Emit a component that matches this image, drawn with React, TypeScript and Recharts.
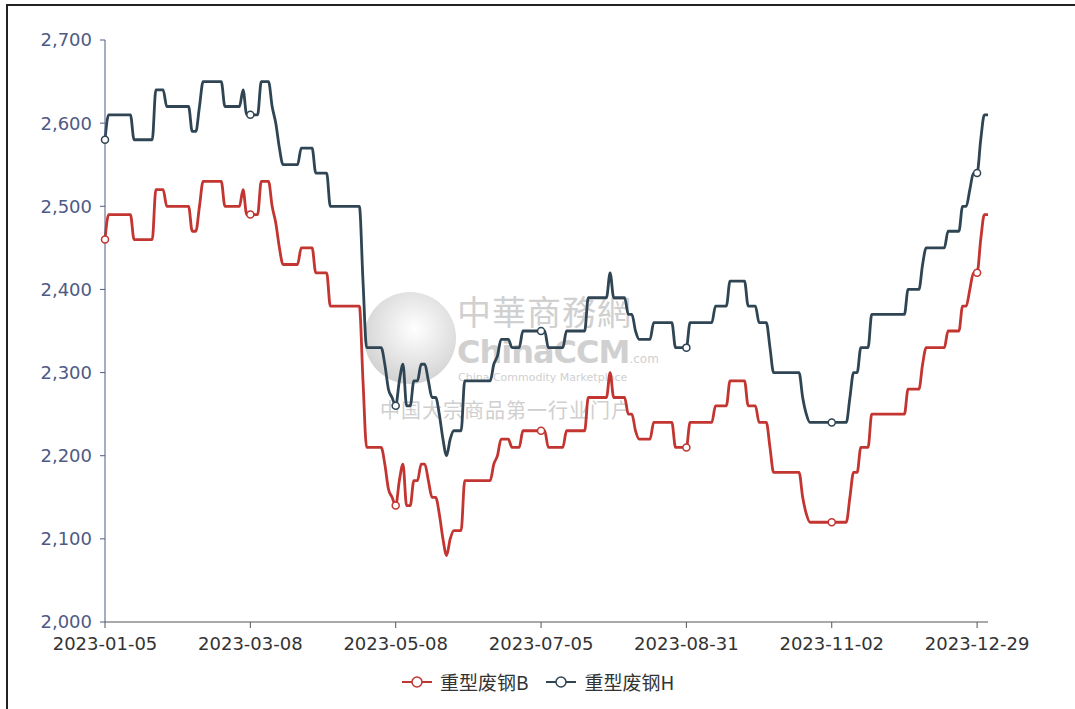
import { Line, LineChart, XAxis, YAxis } from 'recharts';

// tick positions are every 40th trading day
const TICK_INDEX = [0, 40, 80, 120, 160, 200, 240];
const TICK_LABELS = [
  '2023-01-05',
  '2023-03-08',
  '2023-05-08',
  '2023-07-05',
  '2023-08-31',
  '2023-11-02',
  '2023-12-29',
];
const Y_TICKS = [2000, 2100, 2200, 2300, 2400, 2500, 2600, 2700];

const SERIES_NAMES = ['重型废钢B', '重型废钢H'];

// 重型废钢H
const H_VALUES = [
  2580, 2610, 2610, 2610, 2610, 2610, 2610, 2610, 2580, 2580,
  2580, 2580, 2580, 2580, 2640, 2640, 2640, 2620, 2620, 2620,
  2620, 2620, 2620, 2620, 2590, 2590, 2620, 2650, 2650, 2650,
  2650, 2650, 2650, 2620, 2620, 2620, 2620, 2620, 2640, 2610,
  2610, 2610, 2610, 2650, 2650, 2650, 2620, 2600, 2570, 2550,
  2550, 2550, 2550, 2550, 2570, 2570, 2570, 2570, 2540, 2540,
  2540, 2540, 2500, 2500, 2500, 2500, 2500, 2500, 2500, 2500,
  2500, 2410, 2330, 2330, 2330, 2330, 2330, 2310, 2280, 2270,
  2260, 2290, 2310, 2260, 2260, 2290, 2290, 2310, 2310, 2290,
  2270, 2270, 2250, 2220, 2200, 2220, 2230, 2230, 2230, 2290,
  2290, 2290, 2290, 2290, 2290, 2290, 2290, 2310, 2320, 2340,
  2340, 2340, 2330, 2330, 2330, 2350, 2350, 2350, 2350, 2350,
  2350, 2350, 2330, 2330, 2330, 2330, 2330, 2350, 2350, 2350,
  2350, 2350, 2350, 2390, 2390, 2390, 2390, 2390, 2390, 2420,
  2390, 2390, 2390, 2390, 2370, 2370, 2350, 2340, 2340, 2340,
  2340, 2360, 2360, 2360, 2360, 2360, 2360, 2330, 2330, 2330,
  2330, 2360, 2360, 2360, 2360, 2360, 2360, 2360, 2380, 2380,
  2380, 2380, 2410, 2410, 2410, 2410, 2410, 2380, 2380, 2380,
  2360, 2360, 2360, 2330, 2300, 2300, 2300, 2300, 2300, 2300,
  2300, 2300, 2270, 2250, 2240, 2240, 2240, 2240, 2240, 2240,
  2240, 2240, 2240, 2240, 2240, 2270, 2300, 2300, 2330, 2330,
  2330, 2370, 2370, 2370, 2370, 2370, 2370, 2370, 2370, 2370,
  2370, 2400, 2400, 2400, 2400, 2430, 2450, 2450, 2450, 2450,
  2450, 2450, 2470, 2470, 2470, 2470, 2500, 2500, 2520, 2540,
  2540, 2580, 2610, 2610,
];

// 重型废钢B
const B_VALUES = [
  2460, 2490, 2490, 2490, 2490, 2490, 2490, 2490, 2460, 2460,
  2460, 2460, 2460, 2460, 2520, 2520, 2520, 2500, 2500, 2500,
  2500, 2500, 2500, 2500, 2470, 2470, 2500, 2530, 2530, 2530,
  2530, 2530, 2530, 2500, 2500, 2500, 2500, 2500, 2520, 2490,
  2490, 2490, 2490, 2530, 2530, 2530, 2500, 2480, 2450, 2430,
  2430, 2430, 2430, 2430, 2450, 2450, 2450, 2450, 2420, 2420,
  2420, 2420, 2380, 2380, 2380, 2380, 2380, 2380, 2380, 2380,
  2380, 2290, 2210, 2210, 2210, 2210, 2210, 2190, 2160, 2150,
  2140, 2170, 2190, 2140, 2140, 2170, 2170, 2190, 2190, 2170,
  2150, 2150, 2130, 2100, 2080, 2100, 2110, 2110, 2110, 2170,
  2170, 2170, 2170, 2170, 2170, 2170, 2170, 2190, 2200, 2220,
  2220, 2220, 2210, 2210, 2210, 2230, 2230, 2230, 2230, 2230,
  2230, 2230, 2210, 2210, 2210, 2210, 2210, 2230, 2230, 2230,
  2230, 2230, 2230, 2270, 2270, 2270, 2270, 2270, 2270, 2300,
  2270, 2270, 2270, 2270, 2250, 2250, 2230, 2220, 2220, 2220,
  2220, 2240, 2240, 2240, 2240, 2240, 2240, 2210, 2210, 2210,
  2210, 2240, 2240, 2240, 2240, 2240, 2240, 2240, 2260, 2260,
  2260, 2260, 2290, 2290, 2290, 2290, 2290, 2260, 2260, 2260,
  2240, 2240, 2240, 2210, 2180, 2180, 2180, 2180, 2180, 2180,
  2180, 2180, 2150, 2130, 2120, 2120, 2120, 2120, 2120, 2120,
  2120, 2120, 2120, 2120, 2120, 2150, 2180, 2180, 2210, 2210,
  2210, 2250, 2250, 2250, 2250, 2250, 2250, 2250, 2250, 2250,
  2250, 2280, 2280, 2280, 2280, 2310, 2330, 2330, 2330, 2330,
  2330, 2330, 2350, 2350, 2350, 2350, 2380, 2380, 2400, 2420,
  2420, 2460, 2490, 2490,
];

const RED = '#c23531';
const SLATE = '#2f4554';
const Y_COLOR = '#4e5a85';
const FONT = '"DejaVu Sans", sans-serif';
const CJK = '"Noto Sans CJK SC", sans-serif';

const data = H_VALUES.map((h, i) => ({ i, b: B_VALUES[i], h }));

function TickDot(props: any) {
  const { cx, cy, index, stroke } = props;
  if (index % 40 !== 0) return <g key={`d${index}`} />;
  return (
    <circle key={`d${index}`} cx={cx} cy={cy} r={3.5} fill="#fff" stroke={stroke} strokeWidth={1.5} />
  );
}

function LegendIcon({ color }: { color: string }) {
  return (
    <svg width={30} height={14} style={{ display: 'block' }}>
      <line x1={0} y1={7} x2={30} y2={7} stroke={color} strokeWidth={2} />
      <circle cx={15} cy={7} r={5} fill="#fff" stroke={color} strokeWidth={1.5} />
    </svg>
  );
}

function Watermark() {
  return (
    <div style={{ position: 'absolute', left: 0, top: 0, width: 1075, height: 709, color: '#d0d0d0' }}>
      <svg width={1075} height={709} style={{ position: 'absolute', left: 0, top: 0 }}>
        <defs>
          <radialGradient id="globe" cx="0.55" cy="0.4" r="0.6">
            <stop offset="0%" stopColor="#ffffff" />
            <stop offset="100%" stopColor="#c8c8c8" />
          </radialGradient>
        </defs>
        <circle cx={410} cy={338} r={46} fill="url(#globe)" opacity={0.8} />
      </svg>
      <div style={{ position: 'absolute', left: 457, top: 291, fontFamily: CJK, fontSize: 34, lineHeight: '40px', letterSpacing: 1 }}>
        中華商務網
      </div>
      <div style={{ position: 'absolute', left: 457, top: 334, fontFamily: FONT, fontWeight: 700, fontSize: 32, lineHeight: '36px', letterSpacing: -1 }}>
        ChinaCCM<span style={{ fontSize: 12, fontWeight: 400, letterSpacing: 0 }}>.com</span>
      </div>
      <div style={{ position: 'absolute', left: 458, top: 371, fontFamily: FONT, fontSize: 11, lineHeight: '14px' }}>
        China Commodity Marketplace
      </div>
      <div style={{ position: 'absolute', left: 380, top: 398, fontFamily: CJK, fontSize: 20, lineHeight: '24px', letterSpacing: 1, color: '#cfcfcf' }}>
        中国大宗商品第一行业门户
      </div>
    </div>
  );
}

export default function App() {
  return (
    <div style={{ position: 'fixed', left: 0, top: 0, width: 1075, height: 709, background: '#fff', overflow: 'hidden' }}>
      <div style={{ position: 'absolute', left: 6, top: 4, width: 1069, height: 705, borderLeft: '2px solid #222', borderTop: '2px solid #222' }} />
      <Watermark />
      <div style={{ position: 'absolute', left: 0, top: 0 }}>
        <LineChart width={1075} height={709} data={data} margin={{ top: 40, right: 87, left: 8, bottom: 57 }}>
          <XAxis
            type="number"
            dataKey="i"
            domain={[0, H_VALUES.length - 1]}
            ticks={TICK_INDEX}
            interval={0}
            tickFormatter={(v: number) => TICK_LABELS[TICK_INDEX.indexOf(v)] ?? ''}
            height={30}
            tickSize={6}
            tickMargin={9}
            axisLine={{ stroke: '#555' }}
            tickLine={{ stroke: '#555' }}
            tick={{ fill: '#333', fontSize: 18, fontFamily: FONT }}
          />
          <YAxis
            domain={[2000, 2700]}
            ticks={Y_TICKS}
            interval={0}
            width={97}
            tickSize={5}
            tickMargin={8}
            tickFormatter={(v: number) => v.toLocaleString('en-US')}
            axisLine={{ stroke: Y_COLOR }}
            tickLine={{ stroke: Y_COLOR }}
            tick={{ fill: Y_COLOR, fontSize: 18, fontFamily: FONT }}
          />
          <Line
            type="monotone"
            dataKey="b"
            name={SERIES_NAMES[0]}
            stroke={RED}
            strokeWidth={2.8}
            dot={<TickDot />}
            activeDot={false}
            isAnimationActive={false}
          />
          <Line
            type="monotone"
            dataKey="h"
            name={SERIES_NAMES[1]}
            stroke={SLATE}
            strokeWidth={2.8}
            dot={<TickDot />}
            activeDot={false}
            isAnimationActive={false}
          />
        </LineChart>
      </div>
      <div style={{ position: 'absolute', left: 402, top: 670, display: 'flex', alignItems: 'center', fontFamily: CJK, fontSize: 19, color: '#333', lineHeight: '24px' }}>
        <LegendIcon color={RED} />
        <span style={{ marginLeft: 8 }}>{SERIES_NAMES[0]}</span>
        <span style={{ width: 18 }} />
        <LegendIcon color={SLATE} />
        <span style={{ marginLeft: 8 }}>{SERIES_NAMES[1]}</span>
      </div>
    </div>
  );
}
